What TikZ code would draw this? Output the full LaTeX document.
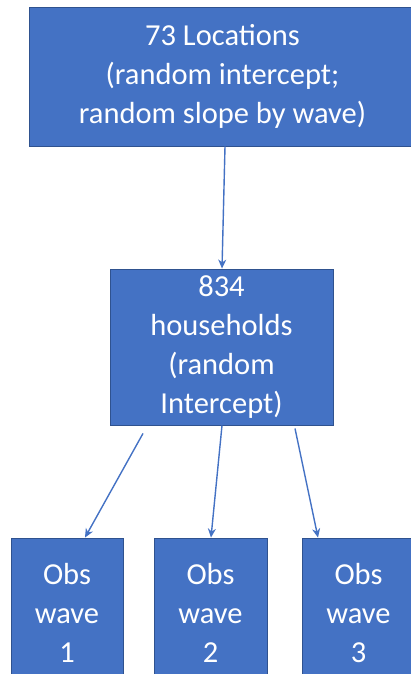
\documentclass[tikz,border=0pt]{standalone}
\usepackage{fontspec}
\setmainfont{Carlito}
\usetikzlibrary{arrows.meta}
\definecolor{boxfill}{HTML}{4472C4}
\definecolor{boxline}{HTML}{2F528F}
\tikzset{
  blockbox/.style={draw=boxline, line width=0.9pt, fill=boxfill, text=white, align=center,
    inner sep=0pt, font=\fontsize{30.5}{39}\selectfont},
  link/.style={draw=boxfill, line width=1.4pt, -{Stealth[length=9pt,width=8pt]}}
}
\begin{document}
\begin{tikzpicture}[x=1pt,y=-1pt]
\useasboundingbox (0,0) rectangle (411,674);
\clip (0,0) rectangle (411,674);
\node[blockbox, minimum width=387pt, minimum height=139pt] (loc) at (222.5,76.5)
  {73 Locations\\(random intercept;\\random slope by wave)};
\node[blockbox, minimum width=223pt, minimum height=156pt] (hh) at (221.5,347)
  {834\\households\\(random\\Intercept)};
\node[blockbox, minimum width=112pt, minimum height=150pt] (w1) at (67,613)
  {Obs\\wave\\1};
\node[blockbox, minimum width=113pt, minimum height=150pt] (w2) at (210.5,613)
  {Obs\\wave\\2};
\node[blockbox, minimum width=113pt, minimum height=150pt] (w3) at (358.5,613)
  {Obs\\wave\\3};
\coordinate (s0) at ([xshift=2.5pt]loc.south);
\coordinate (e0) at ([xshift=0.5pt]hh.north);
\coordinate (s1) at ([xshift=-78.5pt,yshift=-8pt]hh.south);
\coordinate (s2) at ([xshift=0.5pt]hh.south);
\coordinate (s3) at ([xshift=73.5pt,yshift=-3pt]hh.south);
\coordinate (e1) at ([xshift=18pt]w1.north);
\coordinate (e2) at ([xshift=0.5pt]w2.north);
\coordinate (e3) at ([xshift=-40.5pt]w3.north);
\draw[link] (s0) -- (e0);
\draw[link] (s1) -- (e1);
\draw[link] (s2) -- (e2);
\draw[link] (s3) -- (e3);
\end{tikzpicture}
\end{document}
